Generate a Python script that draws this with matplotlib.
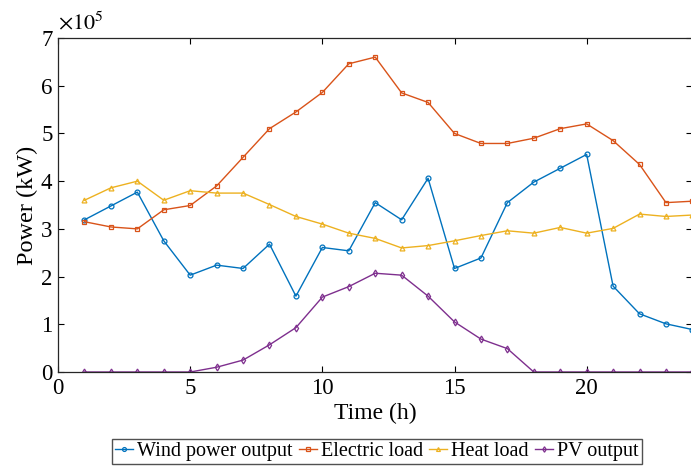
import numpy as np
import matplotlib
matplotlib.use('Agg')
import matplotlib.pyplot as plt

plt.rcParams['font.family'] = ['Liberation Serif', 'DejaVu Serif']
plt.rcParams['mathtext.fontset'] = 'stix'

# hourly data (values in W-ish units, shown as x10^5)
hours = np.arange(1, 25)
wind = [3.19, 3.48, 3.77, 2.75, 2.03, 2.24, 2.17, 2.68, 1.59, 2.61, 2.54, 3.55,
        3.19, 4.06, 2.17, 2.39, 3.55, 3.98, 4.27, 4.56, 1.80, 1.22, 1.01, 0.89]
electric = [3.15, 3.04, 3.00, 3.40, 3.49, 3.90, 4.50, 5.10, 5.45, 5.86, 6.46, 6.60,
            5.85, 5.65, 5.00, 4.79, 4.79, 4.90, 5.10, 5.20, 4.85, 4.35, 3.55, 3.58]
heat = [3.60, 3.86, 4.00, 3.60, 3.80, 3.75, 3.75, 3.51, 3.26, 3.10, 2.91, 2.80,
        2.60, 2.65, 2.75, 2.86, 2.96, 2.91, 3.03, 2.91, 3.01, 3.31, 3.26, 3.29]
pv = [0, 0, 0, 0, 0, 0.10, 0.25, 0.57, 0.93, 1.57, 1.79, 2.07,
      2.03, 1.59, 1.05, 0.69, 0.49, 0, 0, 0, 0, 0, 0, 0]

series = [
    ('Wind power output', wind, '#0072BD', 'o'),
    ('Electric load', electric, '#D95319', 's'),
    ('Heat load', heat, '#EDB120', '^'),
    ('PV output', pv, '#7E2F8E', 'd'),
]

fig = plt.figure(figsize=(6.91, 4.66), dpi=100)
ax = fig.add_axes([0.084, 0.2017, 0.918, 0.7167])

for name, vals, col, mk in series:
    ax.plot(hours, np.array(vals) * 1e5, color=col, marker=mk, ms=3.5,
            mfc='none', mew=0.9, lw=1.0, label=name)

ax.set_xlim(0, 24)
ax.set_ylim(0, 7e5)
ax.set_xticks([0, 5, 10, 15, 20])
ax.set_yticks(np.arange(0, 8) * 1e5)
ax.set_yticklabels([str(i) for i in range(8)])
ax.tick_params(direction='in', top=True, right=True, length=4, width=0.8,
               labelsize=16.5, pad=4)
for s in ax.spines.values():
    s.set_linewidth(0.9)
    s.set_color('#262626')

ax.set_xlabel('Time (h)', fontsize=17, labelpad=3)
ax.set_ylabel('Power (kW)', fontsize=17.5, labelpad=2)
ax.text(0.0, 1.01, r'$\times10^{5}$', transform=ax.transAxes, fontsize=16,
        ha='left', va='bottom')

fig.legend(loc='center', bbox_to_anchor=(0.5456, 0.031), ncol=4,
           fontsize=14.5, frameon=True, fancybox=False, edgecolor='#262626',
           handlelength=0.9, handletextpad=0.2, columnspacing=0.3,
           borderpad=0.15, borderaxespad=0, markerscale=0.8)

fig.savefig('out.png', dpi=100)
